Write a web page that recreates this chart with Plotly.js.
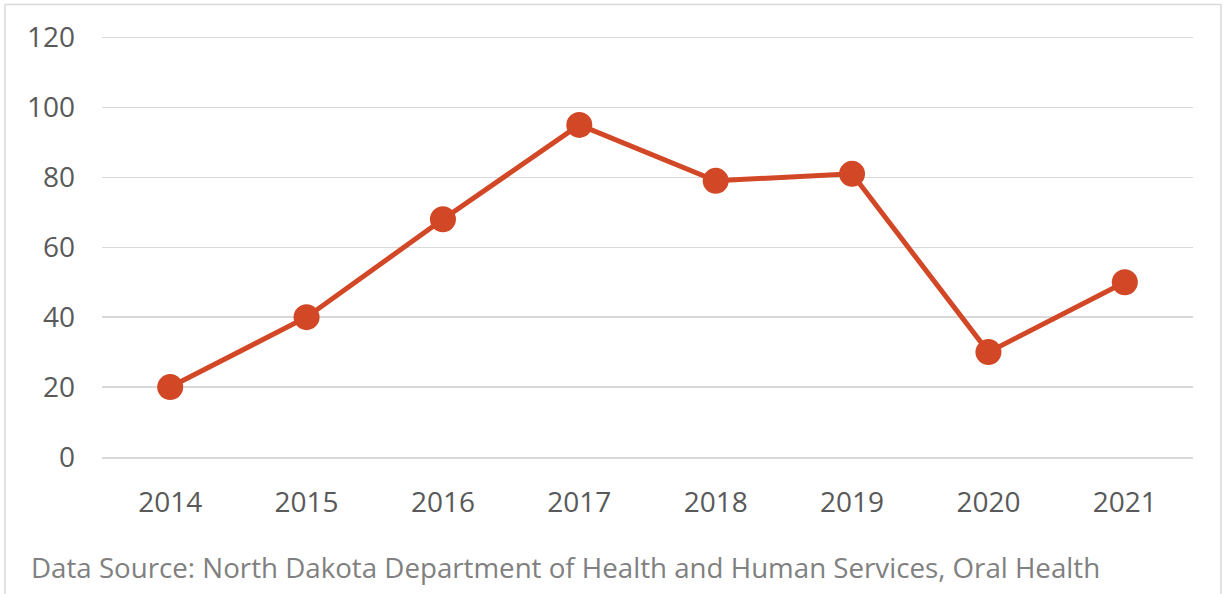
<!DOCTYPE html>
<html>
<head>
<meta charset="utf-8">
<script src="https://cdn.plot.ly/plotly-3.0.1.min.js"></script>
<style>
html,body{margin:0;padding:0;background:#fff;}
#chart{width:1224px;height:594px;}
</style>
</head>
<body>
<div id="chart"></div>
<script>
const years = ["2014","2015","2016","2017","2018","2019","2020","2021"];
const values = [20, 40, 68, 95, 79, 81, 30, 50];
const yTicks = [0, 20, 40, 60, 80, 100, 120];
const sourceText = "Data Source: North Dakota Department of Health and Human Services, Oral Health";

const PH = 423.5;

const trace = {
  x: years,
  y: values,
  type: "scatter",
  mode: "lines+markers",
  line: {color: "#D24726", width: 5},
  marker: {color: "#D24726", size: 26},
  hoverinfo: "x+y",
  cliponaxis: false
};

const layout = {
  width: 1224,
  height: 594,
  margin: {l: 102, r: 31, t: 33.5, b: 137},
  paper_bgcolor: "#ffffff",
  plot_bgcolor: "#ffffff",
  font: {family: "Open Sans, sans-serif", size: 28, color: "#595959"},
  showlegend: false,
  xaxis: {
    type: "category",
    range: [-0.5, 7.5],
    showgrid: false,
    showline: true,
    linecolor: "#d9d9d9",
    linewidth: 1.5,
    ticks: "",
    ticklabelstandoff: 20,
    tickfont: {size: 28, color: "#595959"},
    fixedrange: true
  },
  yaxis: {
    range: [0, 121],
    tickvals: yTicks,
    ticktext: yTicks.map(String),
    showgrid: true,
    gridcolor: "#d9d9d9",
    gridwidth: 1.5,
    zeroline: false,
    showline: false,
    ticks: "",
    ticklabelstandoff: 26,
    tickfont: {size: 28, color: "#595959"},
    fixedrange: true
  },
  shapes: [{
    type: "rect",
    xref: "paper", yref: "paper",
    x0: -97/1091, x1: 1119/1091,
    y0: -150/PH, y1: 453/PH,
    line: {color: "#d9d9d9", width: 1.5},
    fillcolor: "rgba(0,0,0,0)",
    layer: "below"
  }],
  annotations: [{
    text: sourceText,
    xref: "paper", yref: "paper",
    x: -73/1091, y: -110/PH,
    xanchor: "left", yanchor: "middle",
    showarrow: false,
    font: {size: 27.7, color: "#808080"}
  }]
};

Plotly.newPlot("chart", [trace], layout, {displayModeBar: false, staticPlot: true});
</script>
</body>
</html>
